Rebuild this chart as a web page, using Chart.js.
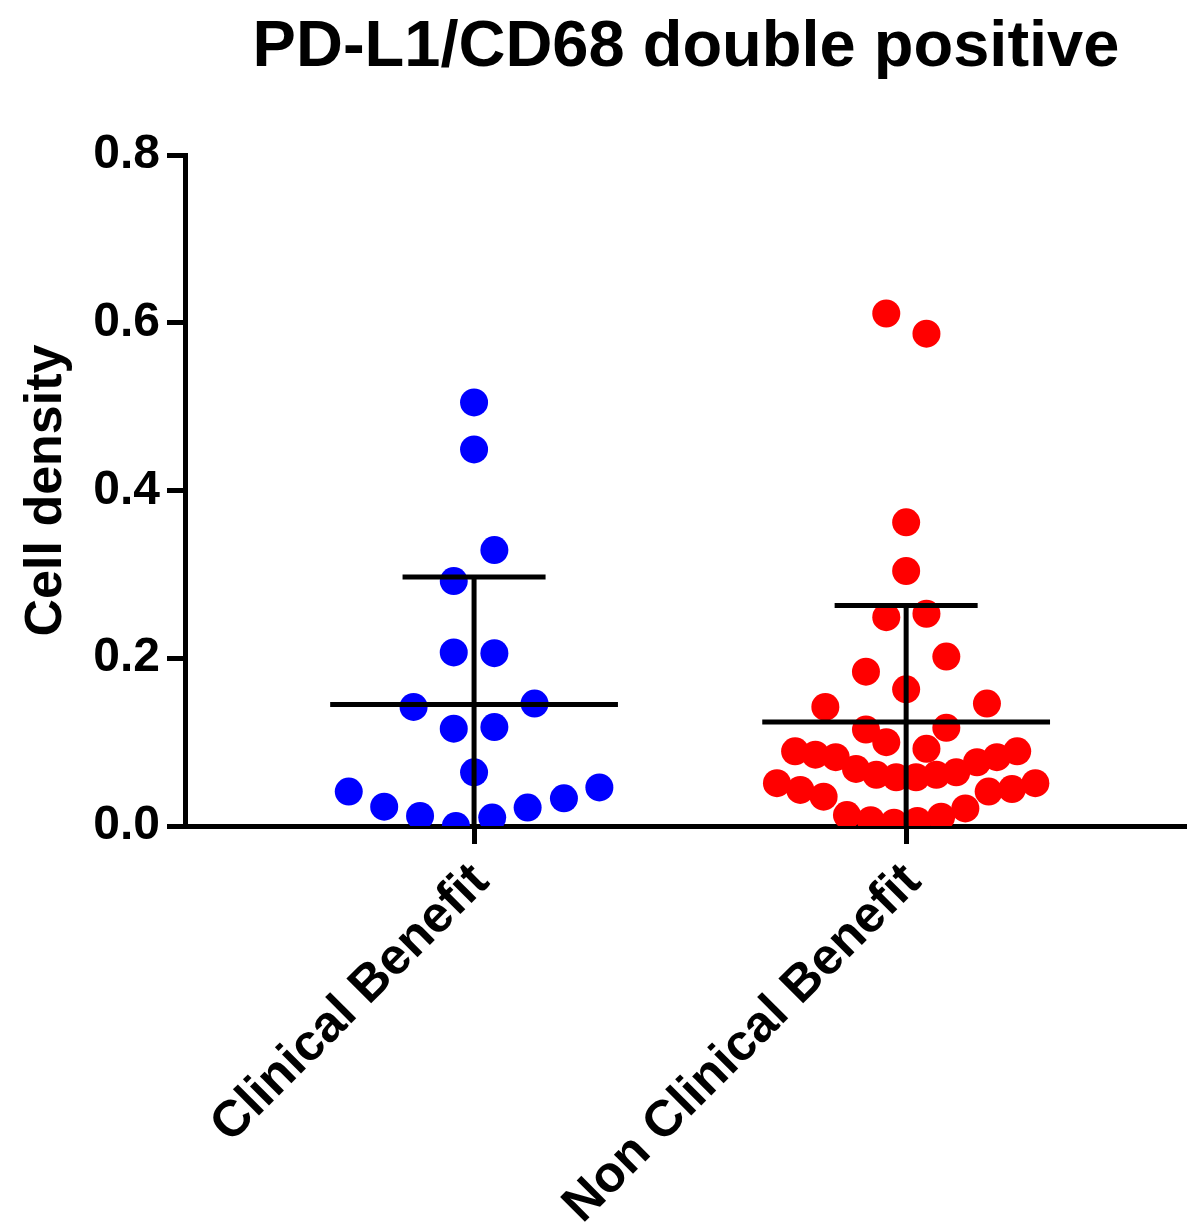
<!DOCTYPE html>
<html lang="en">
<head>
    <meta charset="UTF-8" />
    <title>PD-L1/CD68 double positive</title>
    <script src="https://cdn.jsdelivr.net/npm/chart.js"></script>
    <style>
        html, body { margin: 0; padding: 0; background: #fff; }
        #wrap { width: 1187px; height: 1230px; }
    </style>
</head>
<body>
    <div id="wrap">
        <canvas id="densityChart" width="1187" height="1230"></canvas>
    </div>

    <script>
        // groups on the x axis (positions 1 and 2)
        const groupLabels = ["Clinical Benefit", "Non Clinical Benefit"];

        // Clinical Benefit: cell density and horizontal scatter offset (in group units)
        const cbValues = [0.505, 0.449, 0.329, 0.292, 0.207, 0.206, 0.142, 0.146, 0.116, 0.118,
                          0.064, 0.041, 0.023, 0.012, 0.0, 0.010, 0.022, 0.033, 0.046];
        const cbJitter = [0, 0, 0.047, -0.047, -0.047, 0.047, -0.14, 0.14, -0.047, 0.047,
                          0, -0.29, -0.208, -0.125, -0.042, 0.042, 0.124, 0.208, 0.29];

        // Non Clinical Benefit
        const ncbValues = [0.611, 0.587, 0.362, 0.304, 0.249, 0.253, 0.202, 0.184, 0.163, 0.142,
                           0.146, 0.115, 0.117, 0.100, 0.092, 0.089, 0.085, 0.082, 0.068, 0.061,
                           0.058, 0.058, 0.061, 0.064, 0.076, 0.082, 0.089, 0.051, 0.043, 0.035,
                           0.041, 0.044, 0.051, 0.013, 0.007, 0.004, 0.006, 0.011, 0.021];
        const ncbJitter = [-0.046, 0.047, 0, 0, -0.046, 0.047, 0.093, -0.093, 0, -0.187,
                           0.187, -0.093, 0.093, -0.046, 0.047, -0.257, -0.21, -0.163, -0.116, -0.069,
                           -0.023, 0.023, 0.07, 0.116, 0.164, 0.21, 0.257, -0.299, -0.245, -0.191,
                           0.191, 0.245, 0.299, -0.137, -0.082, -0.028, 0.026, 0.081, 0.137];

        // mean and standard deviation
        const groupMeans = [0.145, 0.124];
        const groupSD = [0.152, 0.139];

        const yTicks = [0.0, 0.2, 0.4, 0.6, 0.8];

        const FONT = "'Liberation Sans', Arial, sans-serif";
        const meanHalf = 0.333;
        const capHalf = 0.1655;

        function toPoints(values, jitter, pos) {
            return values.map((v, i) => ({ x: pos + jitter[i], y: v }));
        }

        function barPoints(i) {
            const pos = i + 1;
            const m = groupMeans[i];
            const top = m + groupSD[i];
            const bot = m - groupSD[i];
            return [
                { x: pos - meanHalf, y: m }, { x: pos + meanHalf, y: m }, { x: pos, y: null },
                { x: pos - capHalf, y: top }, { x: pos + capHalf, y: top }, { x: pos, y: null },
                { x: pos, y: top }, { x: pos, y: bot }
            ];
        }

        function barDataset(i) {
            return {
                type: "scatter",
                data: barPoints(i),
                showLine: true,
                spanGaps: false,
                borderColor: "#000",
                borderWidth: 5,
                borderCapStyle: "butt",
                pointRadius: 0,
                order: 0
            };
        }

        const ctx = document.getElementById("densityChart").getContext("2d");
        new Chart(ctx, {
            type: "scatter",
            data: {
                datasets: [
                    barDataset(0),
                    barDataset(1),
                    {
                        data: toPoints(cbValues, cbJitter, 1),
                        backgroundColor: "#0000ff",
                        borderWidth: 0,
                        pointRadius: 14,
                        order: 1
                    },
                    {
                        data: toPoints(ncbValues, ncbJitter, 2),
                        backgroundColor: "#ff0000",
                        borderWidth: 0,
                        pointRadius: 14,
                        order: 1
                    }
                ]
            },
            options: {
                responsive: false,
                animation: false,
                devicePixelRatio: 1,
                layout: { padding: 0, autoPadding: false },
                plugins: {
                    legend: { display: false },
                    tooltip: { enabled: false },
                    title: {
                        display: true,
                        text: "PD-L1/CD68 double positive",
                        fullSize: false,
                        color: "#000",
                        font: { family: FONT, size: 65, weight: "bold" },
                        padding: { top: 9, bottom: 68 }
                    }
                },
                scales: {
                    x: {
                        type: "linear",
                        min: 0.331,
                        max: 2.65,
                        afterBuildTicks: (scale) => {
                            scale.ticks = groupLabels.map((_, i) => ({ value: i + 1 }));
                        },
                        afterFit: (scale) => {
                            scale.height = 404;
                            scale.paddingRight = 0;
                            scale.paddingLeft = 0;
                        },
                        ticks: {
                            autoSkip: false,
                            minRotation: 45,
                            maxRotation: 45,
                            padding: 8,
                            labelOffset: 7,
                            color: "#000",
                            font: { family: FONT, size: 51, weight: "bold" },
                            callback: (v) => groupLabels[v - 1]
                        },
                        grid: {
                            drawOnChartArea: false,
                            drawTicks: true,
                            tickLength: 18,
                            tickWidth: 5,
                            tickColor: "#000"
                        },
                        border: { display: true, width: 5, color: "#000" }
                    },
                    y: {
                        min: 0,
                        max: 0.8,
                        afterBuildTicks: (scale) => {
                            scale.ticks = yTicks.map(v => ({ value: v }));
                        },
                        afterFit: (scale) => { scale.width = 185; },
                        ticks: {
                            padding: 7,
                            color: "#000",
                            font: { family: FONT, size: 48, weight: "bold" },
                            callback: (v) => v.toFixed(1)
                        },
                        grid: {
                            drawOnChartArea: false,
                            drawTicks: true,
                            tickLength: 18,
                            tickWidth: 5,
                            tickColor: "#000"
                        },
                        border: { display: true, width: 5, color: "#000" },
                        title: {
                            display: true,
                            text: "Cell density",
                            color: "#000",
                            font: { family: FONT, size: 52, weight: "bold" },
                            padding: { top: 15, bottom: 0 }
                        }
                    }
                }
            }
        });
    </script>
</body>
</html>
